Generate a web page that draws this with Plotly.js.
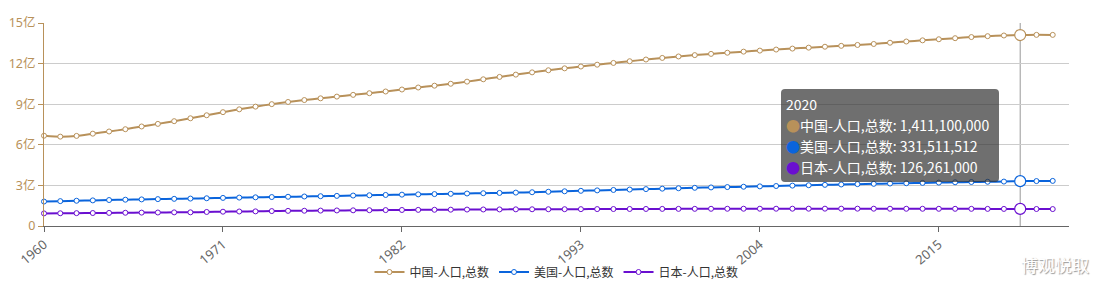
<!DOCTYPE html>
<html>
<head>
<meta charset="utf-8">
<script src="https://cdn.plot.ly/plotly-3.0.1.min.js"></script>
<style>
html,body{margin:0;padding:0;background:#fff;}
#chart{width:1106px;height:288px;}
</style>
</head>
<body>
<div id="chart"></div>
<script>
const years = [];
for (let y = 1960; y <= 2022; y++) years.push(y);

const seriesNames = ['中国-人口,总数', '美国-人口,总数', '日本-人口,总数'];

const china = [667070000,660330000,665770000,682335000,698355000,715185000,735400000,754550000,774510000,796025000,
818315000,841105000,862030000,881940000,900350000,916395000,930685000,943455000,956165000,969005000,
981235000,993885000,1008630000,1023310000,1036825000,1051040000,1066790000,1084035000,1101630000,1118650000,
1135185000,1150780000,1164970000,1178440000,1191835000,1204855000,1217550000,1230075000,1241935000,1252735000,
1262645000,1271850000,1280400000,1288400000,1296075000,1303720000,1311020000,1317885000,1324655000,1331260000,
1337705000,1345035000,1354190000,1363240000,1371860000,1379860000,1387790000,1396215000,1402760000,1407745000,
1411100000,1412360000,1412175000];

const usa = [180671000,183691000,186538000,189242000,191889000,194303000,196560000,198712000,200706000,202677000,
205052000,207661000,209896000,211909000,213854000,215973000,218035000,220239000,222585000,225055000,
227225000,229466000,231664000,233792000,235825000,237924000,240133000,242289000,244499000,246819000,
249623000,252981000,256514000,259919000,263126000,266278000,269394000,272657000,275854000,279040000,
282162411,284968955,287625193,290107933,292805298,295516599,298379912,301231207,304093966,306771529,
309327143,311583481,313877662,316059947,318386329,320738994,323071755,325122128,326838199,328329953,
331511512,332031554,333287557];

const japan = [93216000,94055000,94933000,95832000,96812000,97826000,98883000,99790000,100725000,101061000,
103708000,105697000,107188000,108079000,110162000,111940000,112771000,113863000,114898000,115870000,
116782000,117648000,118449000,119259000,119946000,120754000,121492000,122091000,122613000,123116000,
123537000,123921000,124229000,124536000,124961000,125439000,125757000,126057000,126400000,126631000,
126843000,127149000,127445000,127718000,127761000,127773000,127854000,128001000,128063000,128047000,
128070000,127833000,127629000,127445000,127276000,127141000,126994511,126785797,126529100,126261000,
126261000,125681593,125124989];

const xTickVals = [1960, 1971, 1982, 1993, 2004, 2015];
const yTickVals = [0, 3e8, 6e8, 9e8, 12e8, 15e8];
const yTickText = ['0', '3亿', '6亿', '9亿', '12亿', '15亿'];
const highlightYear = 2020;

const colors = ['#b8915a', '#0a64dc', '#6a0fd0'];
const allSeries = [china, usa, japan];
const hi = years.indexOf(highlightYear);

const FONT = '"Noto Sans", "Noto Sans CJK SC", sans-serif';
const CJK = '"Noto Sans CJK SC", sans-serif';

const traces = [];
allSeries.forEach((s, i) => {
  traces.push({
    x: years, y: s, name: seriesNames[i], type: 'scatter', mode: 'lines+markers',
    line: {color: colors[i], width: 2, shape: 'spline', smoothing: 0.5},
    marker: {symbol: 'circle', size: 5, color: '#fff', line: {color: colors[i], width: 1}},
    hoverinfo: 'skip', cliponaxis: false
  });
});
allSeries.forEach((s, i) => {
  traces.push({
    x: [years[hi]], y: [s[hi]], type: 'scatter', mode: 'markers', showlegend: false,
    marker: {symbol: 'circle', size: 11, color: '#fff', line: {color: colors[i], width: 1.2}},
    hoverinfo: 'skip', cliponaxis: false
  });
});

function fmt(v){ return v.toLocaleString('en-US'); }

const dot = c => '<span style="color:' + c + ';font-size:14px">●</span>';
const tipLines = [
  {t: String(highlightYear), y: 104},
  {t: dot(colors[0]) + seriesNames[0] + ': ' + fmt(china[hi]), y: 125},
  {t: dot(colors[1]) + seriesNames[1] + ': ' + fmt(usa[hi]), y: 146},
  {t: dot(colors[2]) + seriesNames[2] + ': ' + fmt(japan[hi]), y: 167}
];
const plotL = 44, plotR = 1069, plotT = 23, plotB = 226;
const px2x = p => (p - plotL) / (plotR - plotL);
const px2y = p => (plotB - p) / (plotB - plotT);

const annotations = tipLines.map(l => ({
  xref: 'paper', yref: 'paper', x: px2x(784), y: px2y(l.y), xanchor: 'left', yanchor: 'middle',
  text: l.t, showarrow: false, align: 'left',
  font: {family: CJK, size: 14, color: '#fff'}
}));
annotations.push({
  xref: 'paper', yref: 'paper', x: px2x(1055), y: px2y(264), xanchor: 'center', yanchor: 'middle',
  text: '博观悦取', showarrow: false,
  font: {family: CJK, size: 17, color: '#ffffff', shadow: '1px 1px 1px #999'}
});

function roundRect(x0, y0, x1, y1, r) {
  const X = px2x, Y = px2y;
  return 'M' + X(x0 + r) + ',' + Y(y0) +
    ' L' + X(x1 - r) + ',' + Y(y0) + ' Q' + X(x1) + ',' + Y(y0) + ' ' + X(x1) + ',' + Y(y0 + r) +
    ' L' + X(x1) + ',' + Y(y1 - r) + ' Q' + X(x1) + ',' + Y(y1) + ' ' + X(x1 - r) + ',' + Y(y1) +
    ' L' + X(x0 + r) + ',' + Y(y1) + ' Q' + X(x0) + ',' + Y(y1) + ' ' + X(x0) + ',' + Y(y1 - r) +
    ' L' + X(x0) + ',' + Y(y0 + r) + ' Q' + X(x0) + ',' + Y(y0) + ' ' + X(x0 + r) + ',' + Y(y0) + ' Z';
}

const layout = {
  width: 1106, height: 288,
  margin: {l: plotL, r: 1106 - plotR, t: plotT, b: 288 - plotB, autoexpand: false},
  paper_bgcolor: '#fff', plot_bgcolor: '#fff',
  font: {family: FONT, size: 12, color: '#333'},
  showlegend: true,
  legend: {orientation: 'h', x: 0.5, xanchor: 'center', y: px2y(272), yanchor: 'middle',
           bgcolor: 'rgba(0,0,0,0)',
           font: {family: CJK, size: 12, color: '#333'}, itemwidth: 30, tracegroupgap: 0},
  xaxis: {
    range: [1960, 2023], tickmode: 'array', tickvals: xTickVals, ticktext: xTickVals.map(String),
    tickangle: -40, ticks: 'outside', ticklen: 5, tickcolor: '#666', automargin: false,
    showline: true, linecolor: '#666', linewidth: 1, showgrid: false, zeroline: false,
    tickfont: {family: FONT, size: 13, color: '#666'}
  },
  yaxis: {
    range: [0, 15e8], tickmode: 'array', tickvals: yTickVals, ticktext: yTickText,
    ticks: 'outside', ticklen: 5, tickcolor: '#b8915a', automargin: false,
    showline: true, linecolor: '#b8915a', linewidth: 1,
    showgrid: true, gridcolor: '#ccc', gridwidth: 1, zeroline: false,
    tickfont: {family: FONT, size: 12.5, color: '#b8915a'}
  },
  shapes: [
    {type: 'line', xref: 'x', yref: 'paper', x0: highlightYear, x1: highlightYear, y0: 0, y1: 1,
     line: {color: '#999', width: 1}, layer: 'below'},
    {type: 'path', xref: 'paper', yref: 'paper', path: roundRect(781, 89, 999, 182, 4),
     fillcolor: 'rgba(50,50,50,0.7)', line: {width: 0}, layer: 'above'}
  ],
  annotations: annotations
};

Plotly.newPlot('chart', traces, layout, {displayModeBar: false, staticPlot: true});
</script>
</body>
</html>
